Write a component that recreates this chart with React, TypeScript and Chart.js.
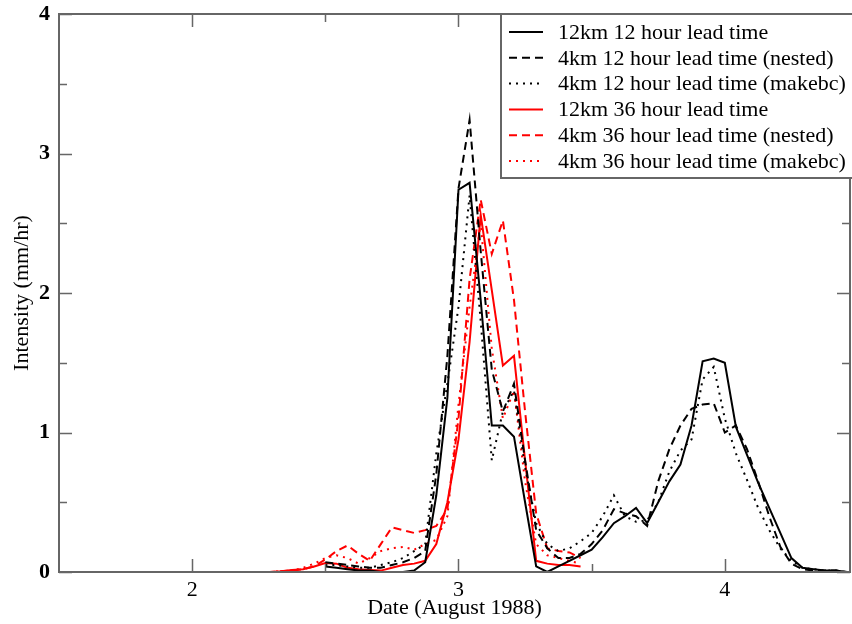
import React, { useEffect, useRef } from 'react';
import { Chart, registerables } from 'chart.js';

Chart.register(...registerables);

// Hours relative to 3 August 1988 00:00 (x value = 3 + hour / 24)
const redHours = [-36, -17, -16, -15, -14, -13, -12, -11, -10, -9, -8, -7, -6, -5, -4, -3, -2, -1, 0, 1, 2, 3, 4, 5, 6, 7, 8, 9, 10, 11];
const blackHours = [-12, -11, -10, -9, -8, -7, -6, -5, -4, -3, -2, -1, 0, 1, 2, 3, 4, 5, 6, 7, 8, 9, 10, 11, 12, 13, 14, 15, 16, 17, 18, 19, 20, 21, 22, 23, 24, 25, 26, 27, 28, 29, 30, 31, 32, 33, 34, 35, 36];

const km12Lead12 = [0.04, 0.03, 0.02, 0.01, 0.01, 0.0, 0.0, 0.0, 0.01, 0.07, 0.55, 1.25, 2.74, 2.79, 1.95, 1.05, 1.05, 0.97, 0.5, 0.04, 0.0, 0.04, 0.08, 0.12, 0.16, 0.25, 0.35, 0.4, 0.46, 0.35, 0.5, 0.65, 0.77, 1.05, 1.51, 1.53, 1.5, 1.04, 0.84, 0.64, 0.46, 0.28, 0.1, 0.03, 0.02, 0.01, 0.01, 0.0, 0.0];
const km4Lead12Nested = [0.07, 0.06, 0.05, 0.04, 0.03, 0.03, 0.05, 0.07, 0.1, 0.15, 0.7, 1.55, 2.75, 3.24, 2.3, 1.45, 1.15, 1.35, 0.8, 0.3, 0.17, 0.1, 0.1, 0.13, 0.2, 0.3, 0.45, 0.42, 0.4, 0.33, 0.65, 0.88, 1.05, 1.17, 1.2, 1.21, 1.0, 1.05, 0.88, 0.65, 0.4, 0.18, 0.06, 0.02, 0.01, 0.01, 0.01, 0.0, 0.0];
const km4Lead12Makebc = [0.05, 0.05, 0.04, 0.03, 0.03, 0.05, 0.07, 0.1, 0.15, 0.2, 0.85, 1.35, 1.9, 2.7, 1.8, 0.8, 1.15, 1.3, 0.75, 0.35, 0.2, 0.15, 0.17, 0.22, 0.28, 0.4, 0.55, 0.4, 0.36, 0.37, 0.5, 0.72, 0.87, 0.95, 1.38, 1.47, 1.1, 0.85, 0.66, 0.46, 0.3, 0.17, 0.08, 0.03, 0.02, 0.01, 0.01, 0.0, 0.0];
const km12Lead36 = [0, 0, 0.005, 0.015, 0.02, 0.04, 0.065, 0.06, 0.03, 0.02, 0.015, 0.01, 0.03, 0.05, 0.06, 0.08, 0.2, 0.5, 0.95, 1.65, 2.56, 2.02, 1.48, 1.55, 0.8, 0.08, 0.06, 0.05, 0.05, 0.04];
const km4Lead36Nested = [0, 0, 0.005, 0.01, 0.02, 0.04, 0.09, 0.15, 0.19, 0.13, 0.08, 0.2, 0.32, 0.3, 0.28, 0.3, 0.33, 0.45, 1.1, 2.1, 2.67, 2.28, 2.52, 1.95, 1.15, 0.42, 0.17, 0.15, 0.14, 0.1];
const km4Lead36Makebc = [0, 0, 0.005, 0.01, 0.03, 0.06, 0.1, 0.12, 0.1, 0.06, 0.1, 0.15, 0.17, 0.18, 0.16, 0.2, 0.23, 0.4, 1.2, 1.9, 2.5, 1.6, 1.1, 1.3, 0.65, 0.2, 0.12, 0.1, 0.08, 0.06];

const seriesLabels = [
  '12km 12 hour lead time',
  '4km 12 hour lead time (nested)',
  '4km 12 hour lead time (makebc)',
  '12km 36 hour lead time',
  '4km 36 hour lead time (nested)',
  '4km 36 hour lead time (makebc)',
];

const xTickValues = [2, 3, 4];
const xMinorValues = [2.5, 3.5];
const yTickValues = [0, 1, 2, 3, 4];
const yMinorValues = [0.5, 1.5, 2.5, 3.5];
const xTitle = 'Date (August 1988)';
const yTitle = 'Intensity (mm/hr)';

const FONT = '"Liberation Serif", "Times New Roman", serif';
const AXIS_COLOR = '#666';

const toPoints = (hours: number[], vals: number[]) =>
  vals.map((v, i) => ({ x: 3 + hours[i] / 24, y: v }));

const framePlugin = {
  id: 'frameTicks',
  afterDatasetsDraw(chart: any) {
    const { ctx, chartArea: a, scales } = chart;
    const xs = scales.x;
    const ys = scales.y;
    ctx.save();
    ctx.strokeStyle = AXIS_COLOR;
    ctx.lineWidth = 1.5;
    const major = 13;
    const minor = 8;
    const vTick = (px: number, len: number) => {
      ctx.beginPath();
      ctx.moveTo(px, a.bottom);
      ctx.lineTo(px, a.bottom - len);
      ctx.moveTo(px, a.top);
      ctx.lineTo(px, a.top + len);
      ctx.stroke();
    };
    const hTick = (py: number, len: number) => {
      ctx.beginPath();
      ctx.moveTo(a.left, py);
      ctx.lineTo(a.left + len, py);
      ctx.moveTo(a.right, py);
      ctx.lineTo(a.right - len, py);
      ctx.stroke();
    };
    xTickValues.forEach((v) => vTick(Math.round(xs.getPixelForValue(v)) + 0.5, major));
    xMinorValues.forEach((v) => vTick(Math.round(xs.getPixelForValue(v)) + 0.5, minor));
    yTickValues.forEach((v) => hTick(Math.round(ys.getPixelForValue(v)) + 0.5, major));
    yMinorValues.forEach((v) => hTick(Math.round(ys.getPixelForValue(v)) + 0.5, minor));
    ctx.lineWidth = 2;
    ctx.strokeRect(a.left, a.top, a.right - a.left, a.bottom - a.top);

    // axis titles
    ctx.fillStyle = '#000';
    ctx.font = `22px ${FONT}`;
    ctx.textAlign = 'center';
    ctx.textBaseline = 'middle';
    ctx.fillText(xTitle, (a.left + a.right) / 2, 608);
    ctx.save();
    ctx.translate(22, (a.top + a.bottom) / 2);
    ctx.rotate(-Math.PI / 2);
    ctx.fillText(yTitle, 0, 0);
    ctx.restore();

    // legend
    const lx = 501;
    const ly = a.top;
    const lw = 400;
    const lh = 164;
    ctx.fillStyle = '#fff';
    ctx.fillRect(lx, ly, lw, lh);
    ctx.strokeStyle = AXIS_COLOR;
    ctx.lineWidth = 2;
    ctx.strokeRect(lx, ly, lw, lh);
    chart.data.datasets.forEach((ds: any, i: number) => {
      const cy = ly + 18 + i * 25.8;
      ctx.strokeStyle = ds.borderColor;
      ctx.lineWidth = ds.borderWidth;
      ctx.setLineDash(ds.borderDash || []);
      ctx.beginPath();
      ctx.moveTo(509, cy);
      ctx.lineTo(543, cy);
      ctx.stroke();
      ctx.setLineDash([]);
      ctx.fillStyle = '#000';
      ctx.font = `22px ${FONT}`;
      ctx.textAlign = 'left';
      ctx.textBaseline = 'middle';
      ctx.fillText(ds.label, 558, cy + 1);
    });
    ctx.restore();
  },
};

export default function App() {
  const ref = useRef<HTMLCanvasElement | null>(null);
  useEffect(() => {
    if (!ref.current) return;
    const mk = (label: string, hours: number[], vals: number[], color: string, dash: number[]) => ({
      label,
      data: toPoints(hours, vals),
      borderColor: color,
      backgroundColor: color,
      borderWidth: 2,
      borderDash: dash,
      pointRadius: 0,
      tension: 0,
      fill: false,
    });
    const dashed = [8, 5];
    const dotted = [2, 5];
    const chart = new Chart(ref.current, {
      type: 'line',
      data: {
        datasets: [
          mk(seriesLabels[0], blackHours, km12Lead12, '#000', []),
          mk(seriesLabels[1], blackHours, km4Lead12Nested, '#000', dashed),
          mk(seriesLabels[2], blackHours, km4Lead12Makebc, '#000', dotted),
          mk(seriesLabels[3], redHours, km12Lead36, '#ff0000', []),
          mk(seriesLabels[4], redHours, km4Lead36Nested, '#ff0000', dashed),
          mk(seriesLabels[5], redHours, km4Lead36Makebc, '#ff0000', dotted),
        ],
      },
      options: {
        responsive: false,
        animation: false,
        layout: { padding: { left: 0, top: 14, right: 2, bottom: 0 } },
        plugins: { legend: { display: false }, tooltip: { enabled: false } },
        scales: {
          x: {
            type: 'linear',
            min: 1.5,
            max: 4.47,
            grid: { display: false, drawTicks: false },
            border: { display: false },
            ticks: { color: '#000', font: { family: FONT, size: 22 }, padding: 5 },
            afterBuildTicks: (s: any) => {
              s.ticks = xTickValues.map((v) => ({ value: v }));
            },
            afterFit: (s: any) => {
              s.height = 52;
              s.paddingLeft = 0;
              s.paddingRight = 0;
            },
          },
          y: {
            type: 'linear',
            min: 0,
            max: 4,
            grid: { display: false, drawTicks: false },
            border: { display: false },
            ticks: { color: '#000', font: { family: FONT, size: 22, weight: 'bold' }, padding: 9 },
            afterBuildTicks: (s: any) => {
              s.ticks = yTickValues.map((v) => ({ value: v }));
            },
            afterFit: (s: any) => {
              s.width = 59;
              s.paddingTop = 0;
              s.paddingBottom = 0;
            },
          },
        },
      },
      plugins: [framePlugin],
    } as any);
    return () => chart.destroy();
  }, []);
  return (
    <div style={{ position: 'absolute', left: 0, top: 0, width: 852, height: 624, background: '#fff' }}>
      <canvas ref={ref} width={852} height={624} style={{ display: 'block' }} />
    </div>
  );
}
